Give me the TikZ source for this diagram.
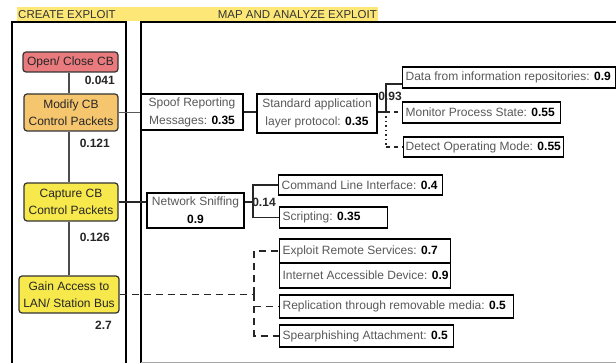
\documentclass[tikz,border=0pt]{standalone}
\usepackage{fontspec}
\setmainfont{Liberation Sans}
\definecolor{cbred}{HTML}{E97A7E}
\definecolor{cborange}{HTML}{F6C66E}
\definecolor{cbyellow}{HTML}{F7E84C}
\definecolor{titleyellow}{HTML}{FDE877}
\newcommand{\val}[1]{\textcolor{black}{\textbf{#1}}}
\begin{document}
\begin{tikzpicture}[x=1pt,y=-1pt,
  cbnode/.style={draw=black!80, line width=1.2pt, rounded corners=3pt, align=center,
    inner sep=0pt, text=black!85, font=\fontsize{12}{17}\selectfont},
  wbox/.style={draw=black, line width=1.3pt, fill=white, inner sep=0pt, align=center,
    text=black!65, font=\fontsize{12}{18}\selectfont},
  lbox/.style={wbox, inner xsep=3pt, anchor=west},
  num/.style={font=\fontsize{12}{14}\selectfont\bfseries, text=black!85, inner sep=0pt, anchor=east},
  title/.style={font=\fontsize{11.5}{13}\selectfont, text=black!80, inner sep=0pt},
  panel/.style={line width=1.4pt, draw=black},
  link/.style={line width=1.2pt, draw=black!85},
  dlink/.style={link, dash pattern=on 7pt off 5pt},
]
\useasboundingbox (0,0) rectangle (616,363);

% title strip
\fill[titleyellow] (17,7) rectangle (378,21);
\node[title, anchor=west] (tcreate) at (18,14.5) {CREATE EXPLOIT};
\node[title, anchor=east] (tmap) at (377,14.5) {MAP AND ANALYZE EXPLOIT};

% the two panels
\draw[panel] (12,363) -- (12,22) -- (126,22) -- (126,363);
\draw[panel] (616,22) -- (141,22) -- (141,363);
\draw[black!35, line width=1pt] (141,362.5) -- (616,362.5);

% attack chain
\node[cbnode, fill=cbred, minimum width=95, minimum height=20] (openclose) at (70.5,62) {Open/ Close CB};
\node[cbnode, fill=cborange, minimum width=94, minimum height=37] (modify) at (71,112.5) {Modify CB\\Control Packets};
\node[cbnode, fill=cbyellow, minimum width=94, minimum height=38] (capture) at (71,202) {Capture CB\\Control Packets};
\node[cbnode, fill=cbyellow, minimum width=100, minimum height=37] (gain) at (69,294.5) {Gain Access to\\LAN/ Station Bus};

\node[num] (n041) at (115,80) {0.041};
\node[num] (n121) at (110,143) {0.121};
\node[num] (n126) at (110,237) {0.126};
\node[num] (n27) at (112,325) {2.7};

\begin{scope}[link, draw=black!70]
\draw (openclose.south -| gain) -- (modify.north -| gain);
\draw (modify.south -| gain) -- (capture.north -| gain);
\draw (capture.south -| gain) -- (gain.north);
\end{scope}

% techniques
\node[wbox, minimum width=102, minimum height=36] (spoof) at (192,112) {Spoof Reporting\\Messages: \val{0.35}};
\node[wbox, minimum width=120, minimum height=39] (standard) at (317,113.5) {Standard application\\layer protocol: \val{0.35}};
\node[lbox, minimum width=213, minimum height=21] (data) at (402,77.5) {\makebox[207pt][l]{Data from information repositories: \val{0.9}}};
\node[lbox, minimum width=158, minimum height=21] (monitor) at (402,112.5) {\makebox[152pt][l]{Monitor Process State: \val{0.55}}};
\node[lbox, inner xsep=2pt, minimum width=160, minimum height=20] (detect) at (403,147) {\makebox[156pt][l]{Detect Operating Mode: \val{0.55}}};

\node[wbox, minimum width=97, minimum height=35] (netsniff) at (195.5,210.5) {Network Sniffing\\\val{0.9}};
\node[lbox, minimum width=164, minimum height=20] (cli) at (278,185) {\makebox[158pt][l]{Command Line Interface: \val{0.4}}};
\node[lbox, minimum width=108, minimum height=21] (scripting) at (279,217.5) {\makebox[102pt][l]{Scripting: \val{0.35}}};

\node[lbox, minimum width=171, minimum height=24] (exploit) at (279,251) {\makebox[165pt][l]{Exploit Remote Services: \val{0.7}}};
\node[lbox, minimum width=171, minimum height=25] (internet) at (279,275.5) {\makebox[165pt][l]{Internet Accessible Device: \val{0.9}}};
\node[lbox, minimum width=234, minimum height=23] (replication) at (279,306.5) {\makebox[228pt][l]{Replication through removable media: \val{0.5}}};
\node[lbox, minimum width=174, minimum height=22] (spear) at (279,336) {\makebox[168pt][l]{Spearphishing Attachment: \val{0.5}}};

% branches off the chain
\draw[link, draw=black!65] (modify.east) -- (modify.east -| spoof.west);
\draw[link] (spoof.east) -- (spoof.east -| standard.west);

\coordinate (j1) at (386,112);
\draw[link] (standard.east |- j1) -- (j1) |- ([yshift=-6.5pt]data.west);
\draw[link, dash pattern=on 4pt off 4pt] (j1) -- (j1 -| monitor.west);
\draw[link, dash pattern=on 1.5pt off 3pt] (j1) -- (j1 |- detect.west);
\draw[link, dash pattern=on 4pt off 4pt] (j1 |- detect.west) -- (detect.west);
\node[num, anchor=center] (p093) at (390,96) {0.93};

\draw[link] (capture.east) -- (capture.east -| netsniff.west);
\coordinate (j2) at (253,202);
\draw[link] (netsniff.east |- j2) -- (j2);
\draw[link] (cli.west) -| (j2) |- (scripting.west);
\node[num, anchor=center] (p014) at (264,202) {0.14};

\coordinate (j3) at (254,294.5);
\draw[dlink] (gain.east) -- (j3);
\draw[dlink] (j3) |- (exploit.west);
\draw[dlink] (j3) |- (replication.west);
\draw[dlink] (j3) |- (spear.west);
\end{tikzpicture}
\end{document}
